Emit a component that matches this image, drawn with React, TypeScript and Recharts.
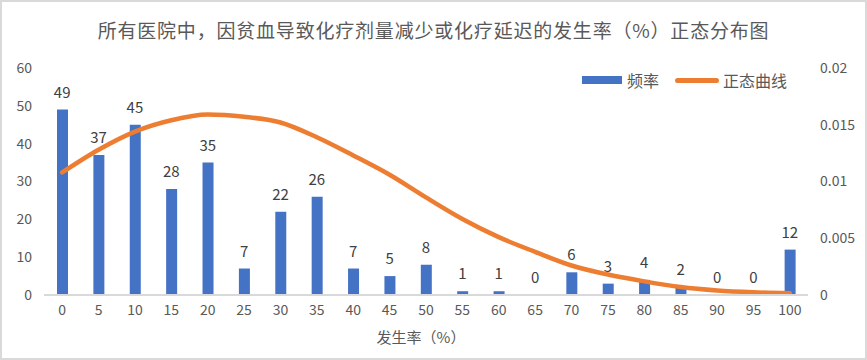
import React from 'react';
import { ComposedChart, Bar, Line, XAxis, YAxis, LabelList } from 'recharts';

// 发生率分组（%）
const categories = ['0', '5', '10', '15', '20', '25', '30', '35', '40', '45', '50', '55', '60', '65', '70', '75', '80', '85', '90', '95', '100'];
// 频率
const frequency = [49, 37, 45, 28, 35, 7, 22, 26, 7, 5, 8, 1, 1, 0, 6, 3, 4, 2, 0, 0, 12];
// 正态曲线
const normalCurve = [
  0.0108, 0.0128, 0.0144, 0.0154, 0.0159, 0.0157, 0.0152, 0.0139, 0.0123, 0.0106, 0.0086,
  0.0067, 0.0051, 0.0038, 0.0026, 0.0018, 0.0012, 0.0007, 0.0004, 0.00024, 0.00015,
];
const leftTicks = [0, 10, 20, 30, 40, 50, 60];
const rightTicks = [0, 0.005, 0.01, 0.015, 0.02];

const FONT = '"Noto Sans CJK SC", "Noto Sans", sans-serif';
const BLUE = '#4472C4';
const ORANGE = '#ED7D31';

const data = categories.map((c, i) => ({ x: c, freq: frequency[i], curve: normalCurve[i] }));

function ChartLegend() {
  return (
    <div style={{ position: 'absolute', top: 68, left: 582, display: 'flex', alignItems: 'center', fontSize: 16, color: '#595959' }}>
      <span style={{ display: 'inline-block', width: 40, height: 8, background: BLUE, marginRight: 5 }} />
      <span style={{ marginRight: 16 }}>频率</span>
      <span style={{ display: 'inline-block', width: 44, height: 5, borderRadius: 3, background: ORANGE, marginRight: 4 }} />
      <span>正态曲线</span>
    </div>
  );
}

export default function App() {
  return (
    <div style={{ position: 'absolute', left: 0, top: 0, width: 867, height: 360, background: '#fff', fontFamily: FONT }}>
      <div style={{ position: 'absolute', top: 16, left: 0, width: 867, textAlign: 'center', fontSize: 19, color: '#595959', letterSpacing: 0.8 }}>
        所有医院中，因贫血导致化疗剂量减少或化疗延迟的发生率（%）正态分布图
      </div>
      <ComposedChart
        width={867}
        height={360}
        data={data}
        margin={{ top: 68, right: 9, bottom: 35, left: 14 }}
        style={{ position: 'absolute', left: 0, top: 0 }}
      >
        <XAxis
          dataKey="x"
          interval={0}
          tickLine={false}
          tickSize={0}
          tickMargin={10}
          height={30}
          axisLine={{ stroke: '#d9d9d9', strokeWidth: 2 }}
          tick={{ fill: '#595959', fontSize: 14, fontFamily: FONT }}
        />
        <YAxis
          yAxisId="left"
          domain={[0, 60]}
          ticks={leftTicks}
          width={30}
          axisLine={false}
          tickLine={false}
          tickSize={0}
          tickMargin={12}
          tick={{ fill: '#595959', fontSize: 14, fontFamily: FONT }}
        />
        <YAxis
          yAxisId="right"
          orientation="right"
          domain={[0, 0.02]}
          ticks={rightTicks}
          width={50}
          axisLine={false}
          tickLine={false}
          tickSize={0}
          tickMargin={12}
          tickFormatter={(v: number) => String(v)}
          tick={{ fill: '#595959', fontSize: 14, fontFamily: FONT, textAnchor: 'start' }}
        />
        <Bar yAxisId="left" dataKey="freq" name="频率" fill={BLUE} barSize={11} isAnimationActive={false} />
        <Line
          yAxisId="right"
          type="monotone"
          dataKey="curve"
          name="正态曲线"
          stroke={ORANGE}
          strokeWidth={4.5}
          strokeLinecap="round"
          dot={false}
          isAnimationActive={false}
        />
        {/* invisible series carrying the bar value labels, so zeros get a label too */}
        <Line
          yAxisId="left"
          dataKey="freq"
          stroke="none"
          dot={false}
          activeDot={false}
          legendType="none"
          isAnimationActive={false}
        >
          <LabelList dataKey="freq" position="top" offset={12} fill="#404040" fontSize={15} fontFamily={FONT} />
        </Line>
      </ComposedChart>
      <ChartLegend />
      <div style={{ position: 'absolute', top: 326, left: 0, width: 842, textAlign: 'center', fontSize: 15, color: '#595959' }}>
        发生率（%）
      </div>
      <div style={{ position: 'absolute', left: 0, top: 0, width: 867, height: 360, boxSizing: 'border-box', border: '2px solid #d9d9d9', pointerEvents: 'none' }} />
    </div>
  );
}
